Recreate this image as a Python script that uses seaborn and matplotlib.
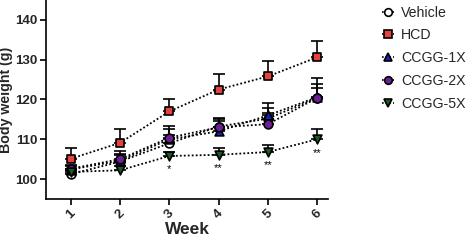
import numpy as np
import pandas as pd
import matplotlib
matplotlib.use("Agg")
import matplotlib.pyplot as plt
import seaborn as sns
from matplotlib.lines import Line2D

weeks = [1, 2, 3, 4, 5, 6]
groups = ["Vehicle", "HCD", "CCGG-1X", "CCGG-2X", "CCGG-5X"]
vehicle = [101.2, 104.4, 109.0, 113.2, 115.2, 120.4]
hcd = [105.1, 109.1, 117.0, 122.5, 125.8, 130.6]
ccgg1 = [102.4, 104.6, 110.0, 112.0, 116.0, 120.6]
ccgg2 = [102.6, 105.0, 110.4, 113.0, 113.8, 120.4]
ccgg5 = [101.8, 102.2, 105.8, 106.1, 106.8, 110.0]
vehicle_err = [1.2, 1.6, 2.0, 2.0, 2.6, 3.6]
hcd_err = [2.8, 3.5, 3.1, 3.8, 3.8, 4.2]
ccgg1_err = [1.0, 1.8, 2.6, 2.5, 3.2, 4.8]
ccgg2_err = [1.0, 2.0, 3.0, 2.4, 2.8, 2.4]
ccgg5_err = [0.8, 1.0, 1.1, 1.6, 1.8, 2.6]
stars = ["", "", "*", "**", "**", "**"]

values = [vehicle, hcd, ccgg1, ccgg2, ccgg5]
errors = [vehicle_err, hcd_err, ccgg1_err, ccgg2_err, ccgg5_err]

colors = {"Vehicle": "white", "HCD": "#e5433f", "CCGG-1X": "#1a1fb8",
          "CCGG-2X": "#6f1f96", "CCGG-5X": "#1d5b20"}
markers = {"Vehicle": "o", "HCD": "s", "CCGG-1X": "^", "CCGG-2X": "o", "CCGG-5X": "v"}

rows = []
for g, v in zip(groups, values):
    for w, y in zip(weeks, v):
        rows.append({"Week": w, "Weight": y, "Group": g})
df = pd.DataFrame(rows)

sns.set_style("ticks")
plt.rcParams["font.family"] = ["Liberation Sans", "DejaVu Sans"]

fig = plt.figure(figsize=(4.7, 2.4), dpi=100)
ax = fig.add_axes([0.098, 0.171, 0.600, 0.829])

# error bars (upper only)
for g, v, e in zip(groups, values, errors):
    ax.errorbar(weeks, v, yerr=[np.zeros(len(e)), e], fmt="none", ecolor="black",
                elinewidth=1.2, capsize=4, capthick=1.2, zorder=2)

for g in groups:
    sub = df[df["Group"] == g]
    sns.lineplot(data=sub, x="Week", y="Weight", ax=ax, color="black", linestyle=(0, (1, 1.2)),
                 linewidth=1.3, zorder=3, legend=False)
    ax.scatter(sub["Week"], sub["Weight"], marker=markers[g], s=40, facecolor=colors[g],
               edgecolor="black", linewidth=1.2, zorder=4)

for w, y, s in zip(weeks, ccgg5, stars):
    if s:
        ax.text(w, y - 2.1, s, ha="center", va="top", fontsize=8, color="black")

ax.set_xlim(0.5, 6.22)
ax.set_ylim(95, 145)
ax.set_xticks(weeks)
ax.set_xticklabels([str(w) for w in weeks], rotation=45, fontweight="bold", fontsize=9.5)
ax.set_yticks([100, 110, 120, 130, 140])
ax.set_yticklabels(["100", "110", "120", "130", "140"], fontweight="bold", fontsize=9.5)
ax.set_xlabel("Week", fontweight="bold", fontsize=12.5, labelpad=1)
ax.set_ylabel("Body weight (g)", fontweight="bold", fontsize=10.2, labelpad=2)
sns.despine(ax=ax)
for sp in ["left", "bottom"]:
    ax.spines[sp].set_linewidth(1.2)
    ax.spines[sp].set_color("black")
ax.tick_params(width=1.2, length=4, color="black", pad=2)

handles = [Line2D([0, 1], [0, 0], color="black", linestyle=(0, (1, 1.2)), linewidth=1.2,
                  marker=markers[g], markerfacecolor=colors[g], markeredgecolor="black",
                  markersize=5.5, markeredgewidth=1.2, markevery=[1]) for g in groups]
fig.legend(handles, groups, loc="upper left", bbox_to_anchor=(0.80, 1.0), frameon=False,
           fontsize=10.2, handlelength=0.9, handletextpad=0.45, labelspacing=0.62,
           borderaxespad=0)

fig.savefig("out.png", dpi=100)
